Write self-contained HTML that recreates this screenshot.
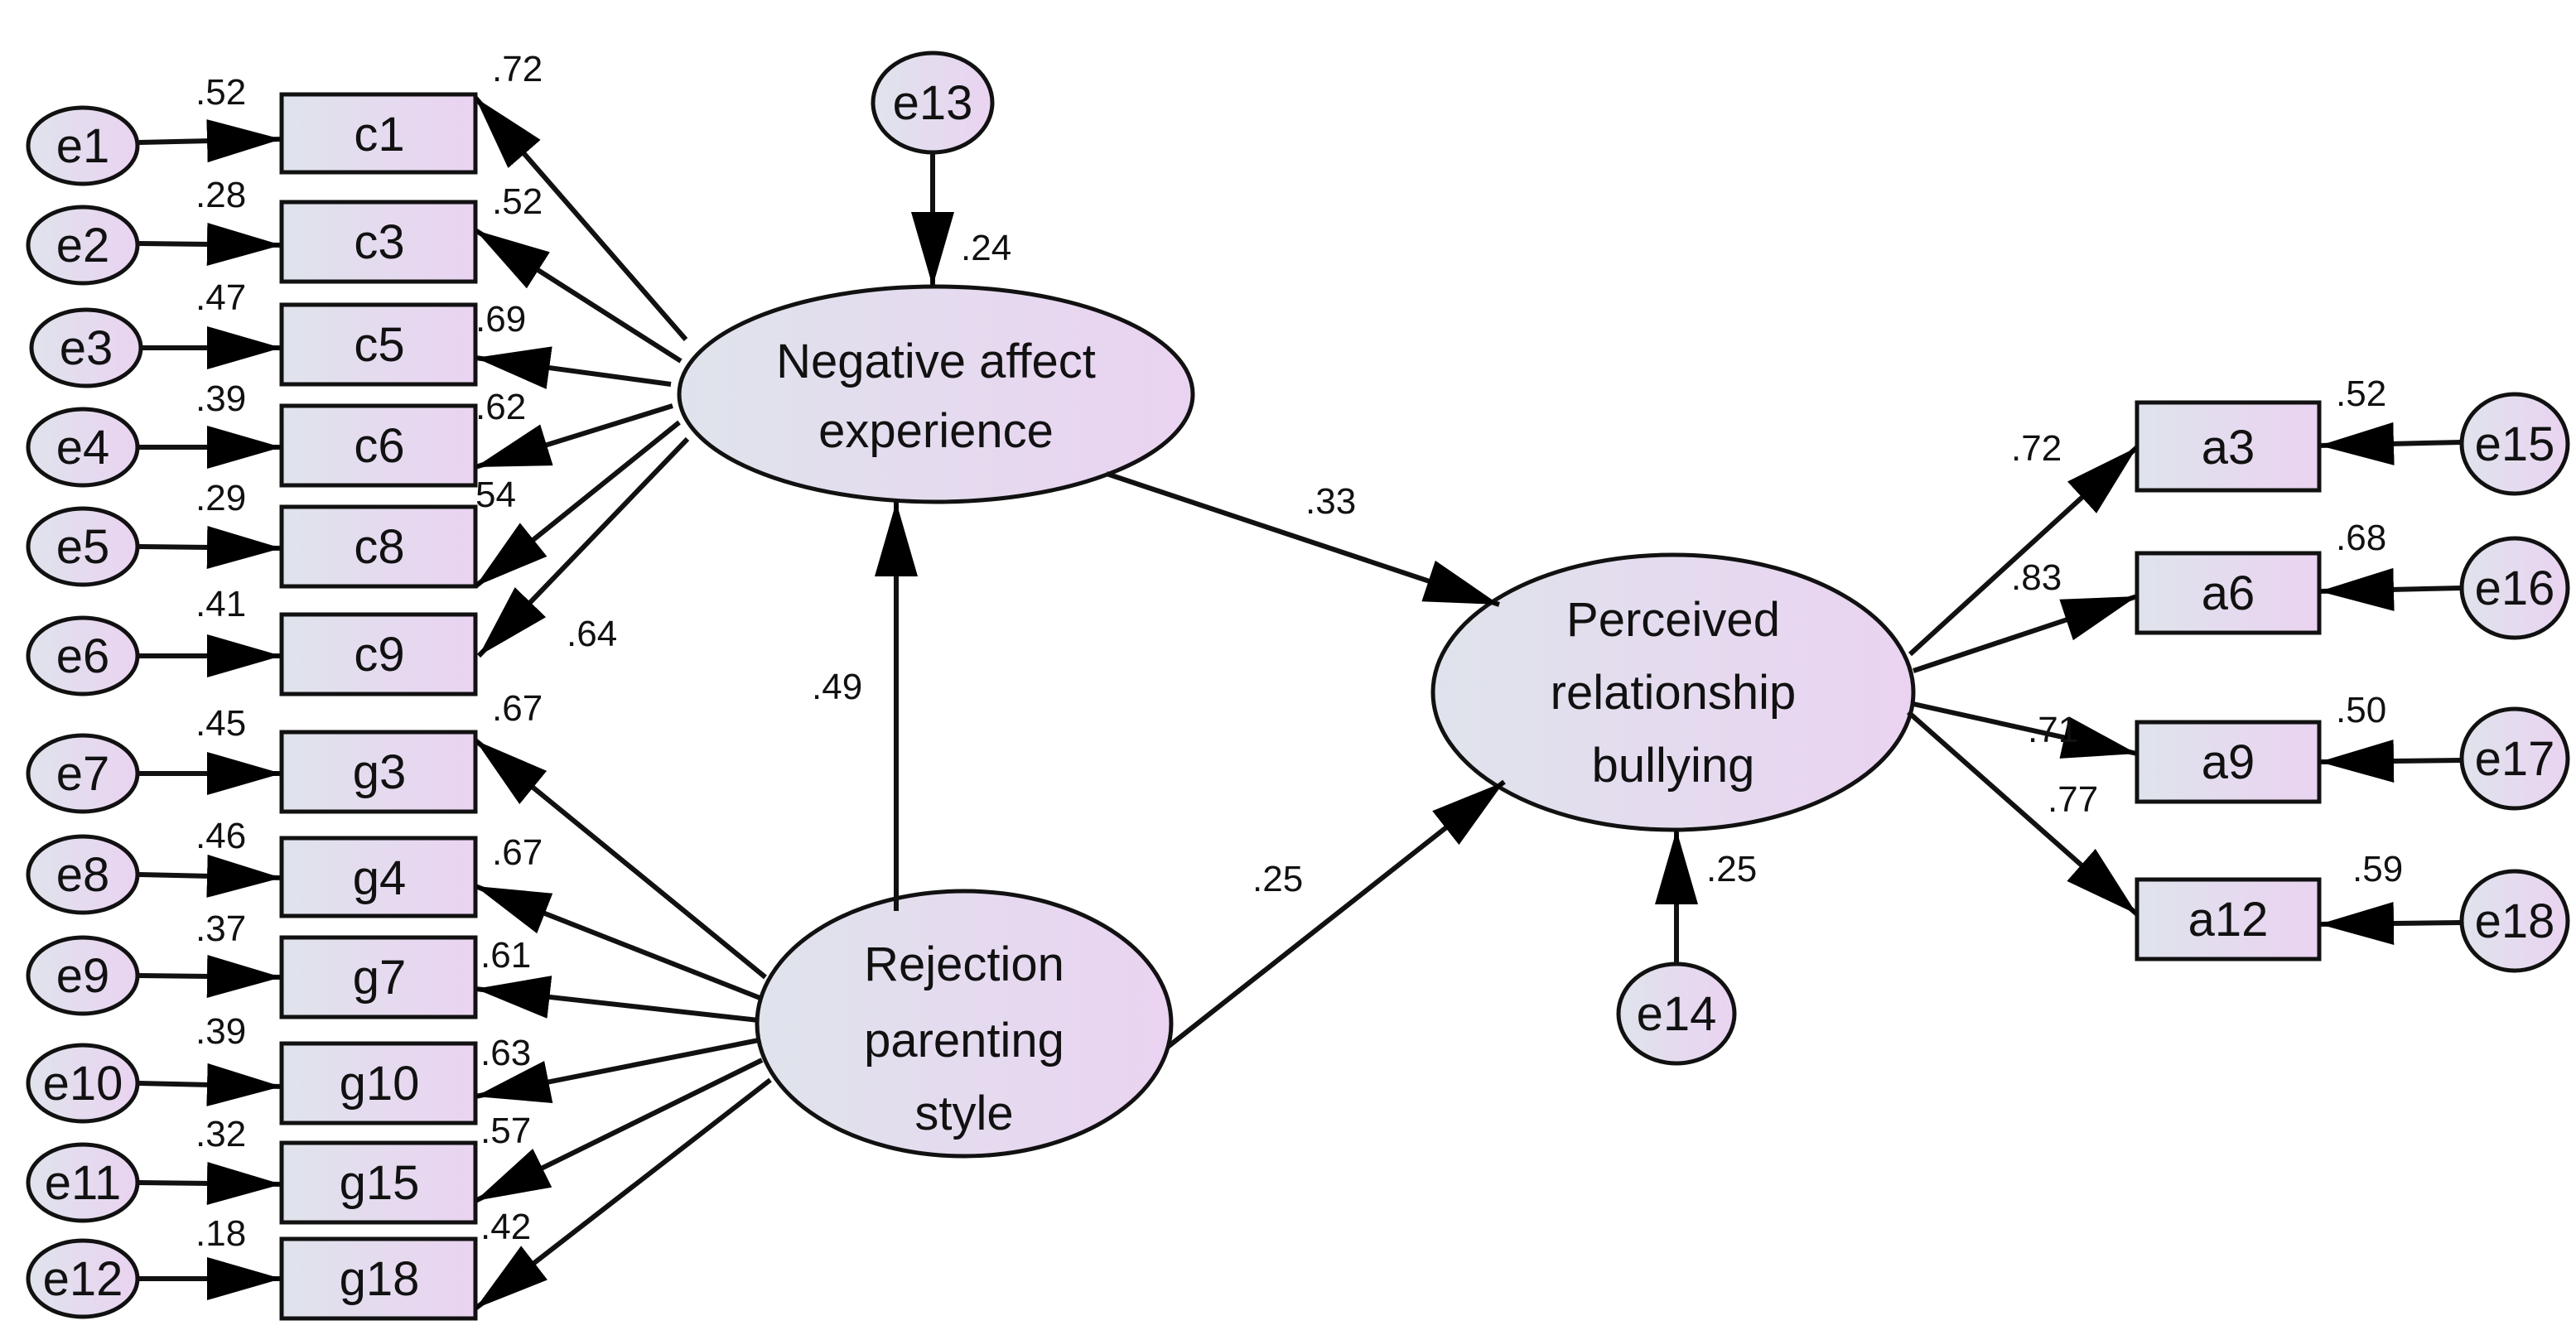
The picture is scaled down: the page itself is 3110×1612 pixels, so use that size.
<!DOCTYPE html>
<html><head><meta charset="utf-8"><style>
html,body{margin:0;padding:0;background:#fff;}
svg{display:block;}
text{font-family:"Liberation Sans",Arial,sans-serif;fill:#111;}
.n{font-size:22px;}
.b{font-size:29px;text-anchor:middle;}
</style></head><body>
<svg width="3110" height="1612" viewBox="0 0 1555 806" xmlns="http://www.w3.org/2000/svg">
<defs>
<linearGradient id="g" x1="0" y1="0" x2="1" y2="0">
<stop offset="0" stop-color="#dfe3ec"/><stop offset="1" stop-color="#ead3f1"/>
</linearGradient>
<marker id="a" markerUnits="userSpaceOnUse" markerWidth="46" markerHeight="28" refX="45" refY="13" orient="auto">
<path d="M0,0 L45,13 L0,26 z" fill="#000"/>
</marker>
</defs>
<g stroke="#111" stroke-width="2.5" fill="url(#g)">
<!-- left e circles -->
<ellipse cx="50" cy="88" rx="33" ry="23"/>
<ellipse cx="50" cy="148" rx="33" ry="23"/>
<ellipse cx="52" cy="210" rx="33" ry="23"/>
<ellipse cx="50" cy="270" rx="33" ry="23"/>
<ellipse cx="50" cy="330" rx="33" ry="23"/>
<ellipse cx="50" cy="396" rx="33" ry="23"/>
<ellipse cx="50" cy="467" rx="33" ry="23"/>
<ellipse cx="50" cy="528" rx="33" ry="23"/>
<ellipse cx="50" cy="589" rx="33" ry="23"/>
<ellipse cx="50" cy="654" rx="33" ry="23"/>
<ellipse cx="50" cy="714" rx="33" ry="23"/>
<ellipse cx="50" cy="772" rx="33" ry="23"/>
<!-- c boxes -->
<rect x="170" y="57" width="117" height="47"/>
<rect x="170" y="122" width="117" height="48"/>
<rect x="170" y="184" width="117" height="48"/>
<rect x="170" y="245" width="117" height="48"/>
<rect x="170" y="306" width="117" height="48"/>
<rect x="170" y="371" width="117" height="48"/>
<rect x="170" y="442" width="117" height="48"/>
<rect x="170" y="506" width="117" height="47"/>
<rect x="170" y="566" width="117" height="48"/>
<rect x="170" y="630" width="117" height="48"/>
<rect x="170" y="690" width="117" height="48"/>
<rect x="170" y="748" width="117" height="48"/>
<!-- latent -->
<ellipse cx="565" cy="238" rx="155" ry="65"/>
<ellipse cx="582" cy="618" rx="125" ry="80"/>
<ellipse cx="1010" cy="418" rx="145" ry="83"/>
<ellipse cx="563" cy="62" rx="36" ry="30"/>
<ellipse cx="1012" cy="612" rx="35" ry="30"/>
<!-- a boxes -->
<rect x="1290" y="243" width="110" height="53"/>
<rect x="1290" y="334" width="110" height="48"/>
<rect x="1290" y="436" width="110" height="48"/>
<rect x="1290" y="531" width="110" height="48"/>
<ellipse cx="1518" cy="268" rx="32" ry="30"/>
<ellipse cx="1518" cy="355" rx="32" ry="30"/>
<ellipse cx="1518" cy="458" rx="32" ry="30"/>
<ellipse cx="1518" cy="556" rx="32" ry="30"/>
</g>
<g stroke="#111" stroke-width="3" fill="none" marker-end="url(#a)">
<line x1="84" y1="86" x2="170" y2="84"/>
<line x1="84" y1="147" x2="170" y2="148"/>
<line x1="86" y1="210" x2="170" y2="210"/>
<line x1="84" y1="270" x2="170" y2="270"/>
<line x1="84" y1="330" x2="170" y2="331"/>
<line x1="84" y1="396" x2="170" y2="396"/>
<line x1="84" y1="467" x2="170" y2="467"/>
<line x1="84" y1="528" x2="170" y2="530"/>
<line x1="84" y1="589" x2="170" y2="590"/>
<line x1="84" y1="654" x2="170" y2="656"/>
<line x1="84" y1="714" x2="170" y2="715"/>
<line x1="84" y1="772" x2="170" y2="772"/>
<!-- negative loadings -->
<line x1="414" y1="205" x2="287" y2="59"/>
<line x1="411" y1="218" x2="287" y2="139"/>
<line x1="405" y1="232" x2="287" y2="216"/>
<line x1="406" y1="245" x2="287" y2="282"/>
<line x1="410" y1="255" x2="287" y2="354"/>
<line x1="415" y1="265" x2="289" y2="396"/>
<!-- rejection loadings -->
<line x1="462" y1="590" x2="287" y2="447"/>
<line x1="460" y1="603" x2="287" y2="535"/>
<line x1="458" y1="616" x2="287" y2="597"/>
<line x1="458" y1="628" x2="287" y2="662"/>
<line x1="460" y1="640" x2="287" y2="725"/>
<line x1="465" y1="652" x2="287" y2="790"/>
<!-- structural -->
<line x1="563" y1="92" x2="563" y2="173"/>
<line x1="541" y1="550" x2="541" y2="303"/>
<line x1="668" y1="286" x2="905" y2="365"/>
<line x1="705" y1="632" x2="908" y2="472"/>
<line x1="1012" y1="582" x2="1012" y2="501"/>
<line x1="1153" y1="395" x2="1290" y2="270"/>
<line x1="1155" y1="405" x2="1290" y2="360"/>
<line x1="1155" y1="425" x2="1290" y2="455"/>
<line x1="1152" y1="430" x2="1290" y2="552"/>
<line x1="1486" y1="267" x2="1400" y2="269"/>
<line x1="1486" y1="355" x2="1400" y2="357"/>
<line x1="1486" y1="459" x2="1400" y2="460"/>
<line x1="1486" y1="557" x2="1400" y2="558"/>
</g>
<g class="b">
<text x="50" y="98">e1</text><text x="50" y="158">e2</text><text x="52" y="220">e3</text>
<text x="50" y="280">e4</text><text x="50" y="340">e5</text><text x="50" y="406">e6</text>
<text x="50" y="477">e7</text><text x="50" y="538">e8</text><text x="50" y="599">e9</text>
<text x="50" y="664">e10</text><text x="50" y="724">e11</text><text x="50" y="782">e12</text>
<text x="229" y="91">c1</text><text x="229" y="156">c3</text><text x="229" y="218">c5</text>
<text x="229" y="279">c6</text><text x="229" y="340">c8</text><text x="229" y="405">c9</text>
<text x="229" y="476">g3</text><text x="229" y="540">g4</text><text x="229" y="600">g7</text>
<text x="229" y="664">g10</text><text x="229" y="724">g15</text><text x="229" y="782">g18</text>
<text x="563" y="72">e13</text><text x="1012" y="622">e14</text>
<text x="565" y="228">Negative affect</text><text x="565" y="270">experience</text>
<text x="582" y="592">Rejection</text><text x="582" y="638">parenting</text><text x="582" y="682">style</text>
<text x="1010" y="384">Perceived</text><text x="1010" y="428">relationship</text><text x="1010" y="472">bullying</text>
<text x="1345" y="280">a3</text><text x="1345" y="368">a6</text><text x="1345" y="470">a9</text><text x="1345" y="565">a12</text>
<text x="1518" y="278">e15</text><text x="1518" y="365">e16</text><text x="1518" y="468">e17</text><text x="1518" y="566">e18</text>
</g>
<g class="n">
<text x="118" y="63">.52</text><text x="118" y="125">.28</text><text x="118" y="187">.47</text>
<text x="118" y="248">.39</text><text x="118" y="308">.29</text><text x="118" y="372">.41</text>
<text x="118" y="444">.45</text><text x="118" y="512">.46</text><text x="118" y="568">.37</text>
<text x="118" y="630">.39</text><text x="118" y="692">.32</text><text x="118" y="752">.18</text>
<text x="297" y="49">.72</text><text x="297" y="129">.52</text><text x="287" y="200">.69</text>
<text x="287" y="253">.62</text><text x="287" y="306">54</text><text x="342" y="390">.64</text>
<text x="297" y="435">.67</text><text x="297" y="522">.67</text><text x="290" y="584">.61</text>
<text x="290" y="643">.63</text><text x="290" y="690">.57</text><text x="290" y="748">.42</text>
<text x="580" y="157">.24</text><text x="490" y="422">.49</text>
<text x="788" y="310">.33</text><text x="756" y="538">.25</text><text x="1030" y="532">.25</text>
<text x="1214" y="278">.72</text><text x="1214" y="356">.83</text><text x="1224" y="448">.71</text><text x="1236" y="490">.77</text>
<text x="1410" y="245">.52</text><text x="1410" y="332">.68</text><text x="1410" y="436">.50</text><text x="1420" y="532">.59</text>
</g>
</svg>
</body></html>
